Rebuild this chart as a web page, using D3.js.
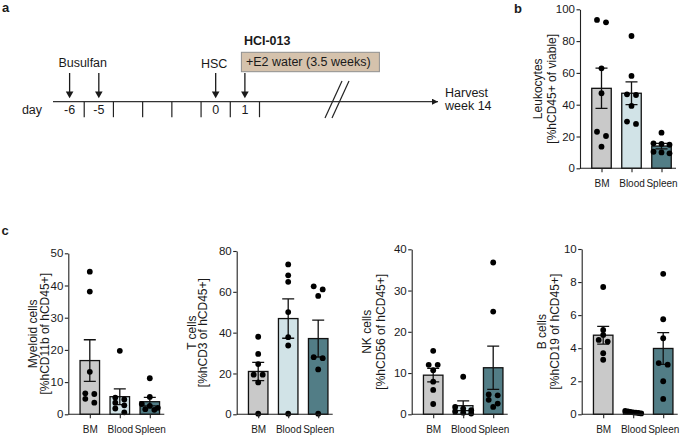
<!DOCTYPE html>
<html>
<head>
<meta charset="utf-8">
<script src="https://cdn.jsdelivr.net/npm/d3@7"></script>
<style>
  body { margin: 0; background: #fff; }
  svg { display: block; font-family: "Liberation Sans", Arial, Helvetica, sans-serif; }
</style>
</head>
<body>
<svg id="fig" width="685" height="436"></svg>
<script>
// ---- data ----
const tissues = ["BM", "Blood", "Spleen"];
const tissueColors = ["#c9c9c9", "#d1e3e7", "#527d86"];

const leukocytes = [
  [93.3, 91.8, 62.9, 47.2, 23.0, 20.3, 13.6],
  [83.2, 58.1, 46.5, 46.1, 39.2, 29.4, 27.9],
  [22.4, 15.7, 15.3, 14.8, 10.4, 10.0, 9.4]
];
const myeloid = [
  [44.3, 38.1, 13.2, 6.5, 6.3, 4.8, 3.6],
  [19.7, 5.2, 4.6, 3.6, 2.8, 1.8, 0.6],
  [11.2, 5.4, 3.2, 2.6, 2.0, 1.6, 1.4]
];
const tCells = [
  [38.0, 29.6, 24.6, 19.4, 19.4, 15.6, 0.3],
  [73.4, 68.1, 64.9, 50.1, 37.8, 33.7, 0.3],
  [62.7, 61.2, 58.0, 28.0, 27.5, 22.0, 0.3]
];
const nkCells = [
  [15.4, 12.0, 12.0, 10.7, 7.9, 5.9, 2.5],
  [9.1, 1.8, 1.4, 1.0, 0.7, 0.4, 0.2],
  [36.8, 24.9, 4.8, 4.6, 3.5, 2.6, 1.8]
];
const bCells = [
  [7.7, 5.1, 4.8, 4.5, 4.4, 3.7, 3.3],
  [0.2, 0.18, 0.15, 0.12, 0.1, 0.08, 0.05],
  [8.5, 5.75, 4.6, 3.1, 3.0, 2.0, 0.93]
];

const leukocyteTicks = [0, 20, 40, 60, 80, 100];
const myeloidTicks = [0, 10, 20, 30, 40, 50];
const tTicks = [0, 20, 40, 60, 80];
const nkTicks = [0, 10, 20, 30, 40];
const bTicks = [0, 2, 4, 6, 8, 10];

// timeline (panel a)
const dayCells = ["-6", "-5", "", "", "", "0", "1"];
const arrowCells = [0, 1, 5, 6];

const svg = d3.select("#fig");
const ink = "#1a1a1a";

// ---- panel letters ----
svg.append("text").attr("x", 2).attr("y", 12).text("a")
  .attr("font-size", 13).attr("font-weight", "bold").attr("fill", ink);
svg.append("text").attr("x", 514).attr("y", 13).text("b")
  .attr("font-size", 13).attr("font-weight", "bold").attr("fill", ink);
svg.append("text").attr("x", 1.5).attr("y", 235).text("c")
  .attr("font-size", 13).attr("font-weight", "bold").attr("fill", ink);

// ---- panel a: timeline ----
const tl = svg.append("g").attr("font-size", 12.5).attr("fill", ink);
const lineY = 101.7;
const cellX = d3.scaleBand().domain(d3.range(dayCells.length)).range([55, 259.5]);
const cellMid = i => cellX(i) + cellX.bandwidth() / 2;

svg.append("defs").append("marker")
  .attr("id", "head").attr("viewBox", "0 0 10 10")
  .attr("refX", 10).attr("refY", 5)
  .attr("markerWidth", 6).attr("markerHeight", 6)
  .attr("markerUnits", "userSpaceOnUse")
  .attr("orient", "auto")
  .append("path").attr("d", "M0,0L10,5L0,10Z").attr("fill", ink);

tl.append("line")
  .attr("x1", 53).attr("x2", 438).attr("y1", lineY).attr("y2", lineY)
  .attr("stroke", "#333").attr("stroke-width", 1.2)
  .attr("marker-end", "url(#head)");

tl.selectAll(".dtick").data(dayCells).join("line")
  .attr("x1", (d, i) => cellX(i) + cellX.bandwidth())
  .attr("x2", (d, i) => cellX(i) + cellX.bandwidth())
  .attr("y1", lineY).attr("y2", lineY + 15.5)
  .attr("stroke", "#222").attr("stroke-width", 1.2);

tl.selectAll(".dlab").data(dayCells).join("text")
  .attr("x", (d, i) => cellMid(i))
  .attr("y", 114).attr("text-anchor", "middle").text(d => d);

tl.append("text").attr("x", 32).attr("y", 114).attr("text-anchor", "middle").text("day");

// event arrows
tl.selectAll(".arr").data(arrowCells).join("path")
  .attr("d", i => `M${cellMid(i)},73V92`)
  .attr("stroke", ink).attr("stroke-width", 1.3);
tl.selectAll(".arrh").data(arrowCells).join("path")
  .attr("d", i => {
    const cx = cellMid(i);
    return `M${cx - 3.8},91.5L${cx + 3.8},91.5L${cx},98.3Z`;
  })
  .attr("fill", ink);

tl.append("text").attr("x", (cellMid(0) + cellMid(1)) / 2 - 1.5).attr("y", 66.5)
  .attr("text-anchor", "middle").text("Busulfan");
tl.append("text").attr("x", cellMid(5) - 1.5).attr("y", 68)
  .attr("text-anchor", "middle").text("HSC");

const boxX = cellMid(6) - 3.5;
tl.append("text").attr("x", boxX + 2.5).attr("y", 45).attr("font-weight", "bold").text("HCI-013");
tl.append("rect").attr("x", boxX).attr("y", 52.3).attr("width", 138).attr("height", 19.4)
  .attr("fill", "#d5c2ac").attr("stroke", "#8f8f8f").attr("stroke-width", 1);
tl.append("text").attr("x", boxX + 4.5).attr("y", 66).text("+E2 water (3.5 weeks)");

// axis break
const breakX = 337;
[-3.5, 3.5].forEach(o => {
  tl.append("line")
    .attr("x1", breakX + o - 8.5).attr("y1", 118)
    .attr("x2", breakX + o + 8.5).attr("y2", 81)
    .attr("stroke", "#222").attr("stroke-width", 1.2);
});

tl.append("text").attr("x", 445).attr("y", 97).text("Harvest");
tl.append("text").attr("x", 445).attr("y", 110).text("week 14");

// ---- bar/dot panels ----
const panels = [
  { values: leukocytes, ticks: leukocyteTicks, title: ["Leukocytes", "[%hCD45+ of viable]"],
    x0: 580, top: 9.3, bottom: 168.3, titleX: [538, 551.7] },
  { values: myeloid, ticks: myeloidTicks, title: ["Myeloid cells", "[%hCD11b of hCD45+]"],
    x0: 68.3, top: 253.3, bottom: 414.3, titleX: [33.3, 45] },
  { values: tCells, ticks: tTicks, title: ["T cells", "[%hCD3 of hCD45+]"],
    x0: 236.7, top: 251, bottom: 414.3, titleX: [191.7, 203.3] },
  { values: nkCells, ticks: nkTicks, title: ["NK cells", "[%hCD56 of hCD45+]"],
    x0: 411.7, top: 249.3, bottom: 414.3, titleX: [366.7, 380.7] },
  { values: bCells, ticks: bTicks, title: ["B cells", "[%hCD19 of hCD45+]"],
    x0: 581.7, top: 249, bottom: 414.3, titleX: [541.7, 555] }
];

const barW = 19.5;
const dotR = 2.9;

// place dots in horizontal rows like a scatter-dot plot
function swarm(vals, y, cx) {
  const pts = vals.map(v => ({ v, py: y(v) })).sort((a, b) => a.py - b.py);
  const rows = [];
  pts.forEach(p => {
    const row = rows[rows.length - 1];
    if (row && p.py - row[0].py < 4.5) row.push(p);
    else rows.push([p]);
  });
  rows.forEach(row => {
    const gap = row.length > 1 ? Math.min(9, 16 / (row.length - 1)) : 0;
    row.forEach((p, k) => { p.px = cx + (k - (row.length - 1) / 2) * gap; });
  });
  return pts;
}

function drawPanel(p) {
  const g = svg.append("g").attr("fill", ink);
  const y = d3.scaleLinear().domain([0, d3.max(p.ticks)]).range([p.bottom, p.top]);
  const x = d3.scalePoint().domain(tissues).range([p.x0 + 21.5, p.x0 + 81.5]);

  const stats = tissues.map((t, i) => {
    const v = p.values[i];
    return { t, i, v, m: d3.mean(v), sem: d3.deviation(v) / Math.sqrt(v.length) };
  });

  g.selectAll(".bar").data(stats).join("rect")
    .attr("x", d => x(d.t) - barW / 2).attr("width", barW)
    .attr("y", d => y(d.m)).attr("height", d => y(0) - y(d.m))
    .attr("fill", d => tissueColors[d.i])
    .attr("stroke", "#111").attr("stroke-width", 1.3);

  // error bars (mean ± SEM)
  stats.forEach(d => {
    const cx = x(d.t);
    const lo = y(Math.max(0, d.m - d.sem)), hi = y(d.m + d.sem);
    g.append("path")
      .attr("d", `M${cx},${lo}V${hi}M${cx - 6},${hi}H${cx + 6}M${cx - 6},${lo}H${cx + 6}`)
      .attr("stroke", "#111").attr("stroke-width", 1.3).attr("fill", "none");
  });

  stats.forEach(d => {
    g.selectAll(null).data(swarm(d.v, y, x(d.t))).join("circle")
      .attr("cx", q => q.px).attr("cy", q => q.py).attr("r", dotR)
      .attr("fill", "#000");
  });

  // y axis
  const ya = g.append("g").attr("transform", `translate(${p.x0},0)`)
    .call(d3.axisLeft(y).tickValues(p.ticks).tickSize(3.5).tickPadding(1.5).tickSizeOuter(0));
  ya.selectAll("text").attr("font-size", 11.5).attr("fill", ink).attr("font-family", null);
  ya.selectAll("line,path").attr("stroke", "#222").attr("stroke-width", 1.1);

  // x axis
  g.append("line").attr("x1", p.x0).attr("x2", p.x0 + 96)
    .attr("y1", y(0)).attr("y2", y(0))
    .attr("stroke", "#222").attr("stroke-width", 1.1);
  const xa = g.append("g").attr("transform", `translate(0,${y(0)})`)
    .call(d3.axisBottom(x).tickSize(4).tickPadding(7.5));
  xa.select(".domain").remove();
  xa.selectAll("text").attr("font-size", 10).attr("fill", ink).attr("font-family", null);
  xa.selectAll("line").attr("stroke", "#222").attr("stroke-width", 1.1);

  // y title (two lines)
  const cy = (p.top + p.bottom) / 2;
  p.title.forEach((t, k) => {
    g.append("text")
      .attr("transform", `translate(${p.titleX[k] + 4},${cy}) rotate(-90)`)
      .attr("text-anchor", "middle").attr("font-size", 12).text(t);
  });
}

panels.forEach(drawPanel);
</script>
</body>
</html>
